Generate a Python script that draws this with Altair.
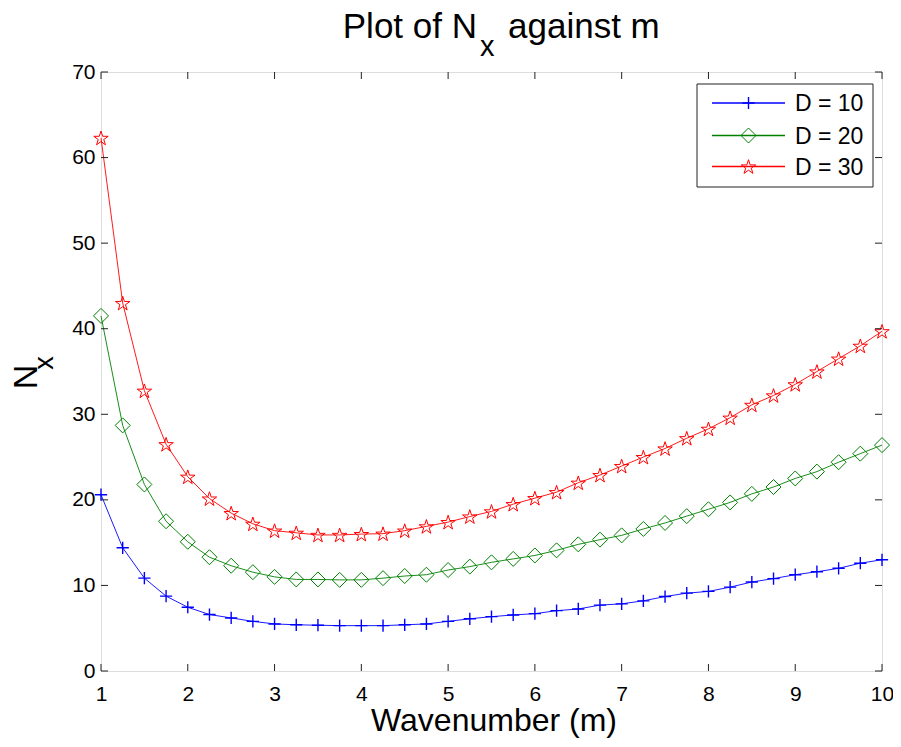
import math
import altair as alt
import pandas as pd

# ---- data ----
m_vals = [1, 1.25, 1.5, 1.75, 2, 2.25, 2.5, 2.75, 3, 3.25, 3.5, 3.75, 4, 4.25,
          4.5, 4.75, 5, 5.25, 5.5, 5.75, 6, 6.25, 6.5, 6.75, 7, 7.25, 7.5, 7.75,
          8, 8.25, 8.5, 8.75, 9, 9.25, 9.5, 9.75, 10]
d10 = [20.6, 14.4, 10.85, 8.75, 7.45, 6.6, 6.2, 5.8, 5.5, 5.4, 5.35, 5.3, 5.3,
       5.3, 5.4, 5.5, 5.8, 6.1, 6.35, 6.55, 6.7, 7.05, 7.25, 7.7, 7.85, 8.2,
       8.7, 9.1, 9.3, 9.8, 10.4, 10.8, 11.25, 11.6, 12.0, 12.6, 13.0]
d20 = [41.5, 28.7, 21.8, 17.5, 15.1, 13.3, 12.3, 11.55, 11.0, 10.7, 10.7, 10.65,
       10.65, 10.85, 11.1, 11.25, 11.8, 12.2, 12.7, 13.1, 13.5, 14.1, 14.8,
       15.35, 15.85, 16.6, 17.3, 18.1, 18.9, 19.7, 20.7, 21.5, 22.5, 23.3, 24.4,
       25.4, 26.4]
d30 = [62.3, 43.0, 32.75, 26.5, 22.7, 20.15, 18.45, 17.2, 16.4, 16.15, 15.9,
       15.9, 16.0, 16.05, 16.4, 16.9, 17.4, 18.05, 18.65, 19.5, 20.2, 20.9, 22.0,
       22.9, 23.95, 25.0, 26.0, 27.2, 28.3, 29.6, 31.1, 32.2, 33.5, 35.0, 36.5,
       38.0, 39.7]
series_labels = ["D = 10", "D = 20", "D = 30"]
series_values = [d10, d20, d30]
x_ticks = [1, 2, 3, 4, 5, 6, 7, 8, 9, 10]
y_ticks = [0, 10, 20, 30, 40, 50, 60, 70]

# ---- styling ----
FONT = "Liberation Sans"
W, H = 781, 599
colors = ["#0000FF", "#008000", "#FF0000"]

plus_path = "M-1,0L1,0M0,-1L0,1"
diamond_path = "M0,-1L1,0L0,1L-1,0Z"
star_pts = []
for k in range(10):
    ang = math.radians(-90 + 36 * k)
    r = 1.0 if k % 2 == 0 else 0.382
    star_pts.append(f"{r*math.cos(ang):.4f},{r*math.sin(ang)+0.1:.4f}")
star_path = "M" + "L".join(star_pts) + "Z"
shapes = [plus_path, diamond_path, star_path]
sizes = [150, 225, 230]
sw = [1.4, 1, 1]

xaxis = alt.Axis(values=x_ticks, title=None, grid=False, domain=False, ticks=False,
                 tickSize=0, labelFontSize=21, labelFont=FONT, labelColor="#000",
                 labelPadding=12, labelFlush=False, labelOverlap=False)
yaxis = alt.Axis(values=y_ticks, title=None, grid=False, domain=False, ticks=False,
                 tickSize=0, labelFontSize=21, labelFont=FONT, labelColor="#000",
                 labelPadding=6, labelFlush=False, labelOverlap=False)
X = alt.X("m:Q", scale=alt.Scale(domain=[1, 10], nice=False, zero=False), axis=xaxis)
Y = alt.Y("N:Q", scale=alt.Scale(domain=[0, 70], nice=False), axis=yaxis)

layers = []
for lab, vals, c, shp, sz, w in zip(series_labels, series_values, colors, shapes, sizes, sw):
    df = pd.DataFrame({"m": m_vals, "N": vals, "series": lab})
    base = alt.Chart(df)
    layers.append(base.mark_line(color=c, strokeWidth=0.9).encode(x=X, y=Y))
    layers.append(base.mark_point(shape=shp, size=sz, filled=False, color=c,
                                  strokeWidth=w, opacity=1).encode(x=X, y=Y))

# inward ticks on all four sides
xt = pd.DataFrame({"m": x_ticks})
yt = pd.DataFrame({"N": y_ticks})
tick_col = "#222222"
layers.append(alt.Chart(xt).mark_rule(color=tick_col, strokeWidth=1).encode(
    x=X, y=alt.value(H), y2=alt.value(H - 7)))
layers.append(alt.Chart(xt).mark_rule(color=tick_col, strokeWidth=1).encode(
    x=X, y=alt.value(0), y2=alt.value(7)))
layers.append(alt.Chart(yt).mark_rule(color=tick_col, strokeWidth=1).encode(
    y=Y, x=alt.value(0), x2=alt.value(7)))
layers.append(alt.Chart(yt).mark_rule(color=tick_col, strokeWidth=1).encode(
    y=Y, x=alt.value(W), x2=alt.value(W - 7)))

# legend (drawn manually, MATLAB style)
one = pd.DataFrame({"k": [0]})
layers.append(alt.Chart(one).mark_rect(fill="white", stroke="#222222", strokeWidth=1).encode(
    x=alt.value(596), x2=alt.value(772), y=alt.value(12), y2=alt.value(115)))
row_y = [31, 63.5, 94.5]
for lab, c, shp, sz, w, ry in zip(series_labels, colors, shapes, sizes, sw, row_y):
    ldf = pd.DataFrame({"label": [lab]})
    lb = alt.Chart(ldf)
    layers.append(lb.mark_rule(color=c, strokeWidth=1.3).encode(
        x=alt.value(611), x2=alt.value(684), y=alt.value(ry)))
    layers.append(lb.mark_point(shape=shp, size=sz, filled=False, color=c,
                                strokeWidth=w, opacity=1).encode(
        x=alt.value(647.5), y=alt.value(ry)))
    layers.append(lb.mark_text(align="left", baseline="middle", font=FONT,
                               fontSize=23, color="#000").encode(
        x=alt.value(694), y=alt.value(ry + 1), text="label:N"))

# titles with subscripts
def txt(s, x, y, size, align="left", angle=0, baseline="alphabetic"):
    d = pd.DataFrame({"t": [s]})
    kw = dict(align=align, baseline=baseline, font=FONT, fontSize=size, color="#000")
    if angle:
        kw["angle"] = angle
    return alt.Chart(d).mark_text(**kw).encode(x=alt.value(x), y=alt.value(y), text="t:N")

layers.append(txt("Plot of N", 376, -34, 35, align="right"))
layers.append(txt("x", 379, -16, 29))
layers.append(txt("against m", 407, -34, 35))
layers.append(txt("Wavenumber (m)", 393, 659, 32, align="center"))
layers.append(txt("N", -64, 305, 34, align="center", angle=270))
layers.append(txt("x", -48, 291, 27, align="center", angle=270))

chart = alt.layer(*layers).properties(
    width=W, height=H,
    autosize=alt.AutoSizeParams(type="none"),
    padding={"left": 93, "top": 64, "right": 11, "bottom": 67},
).configure_view(stroke="#222222", strokeWidth=1).configure(font=FONT)

chart.save("out.html", embed_options={"renderer": "svg", "actions": False})
